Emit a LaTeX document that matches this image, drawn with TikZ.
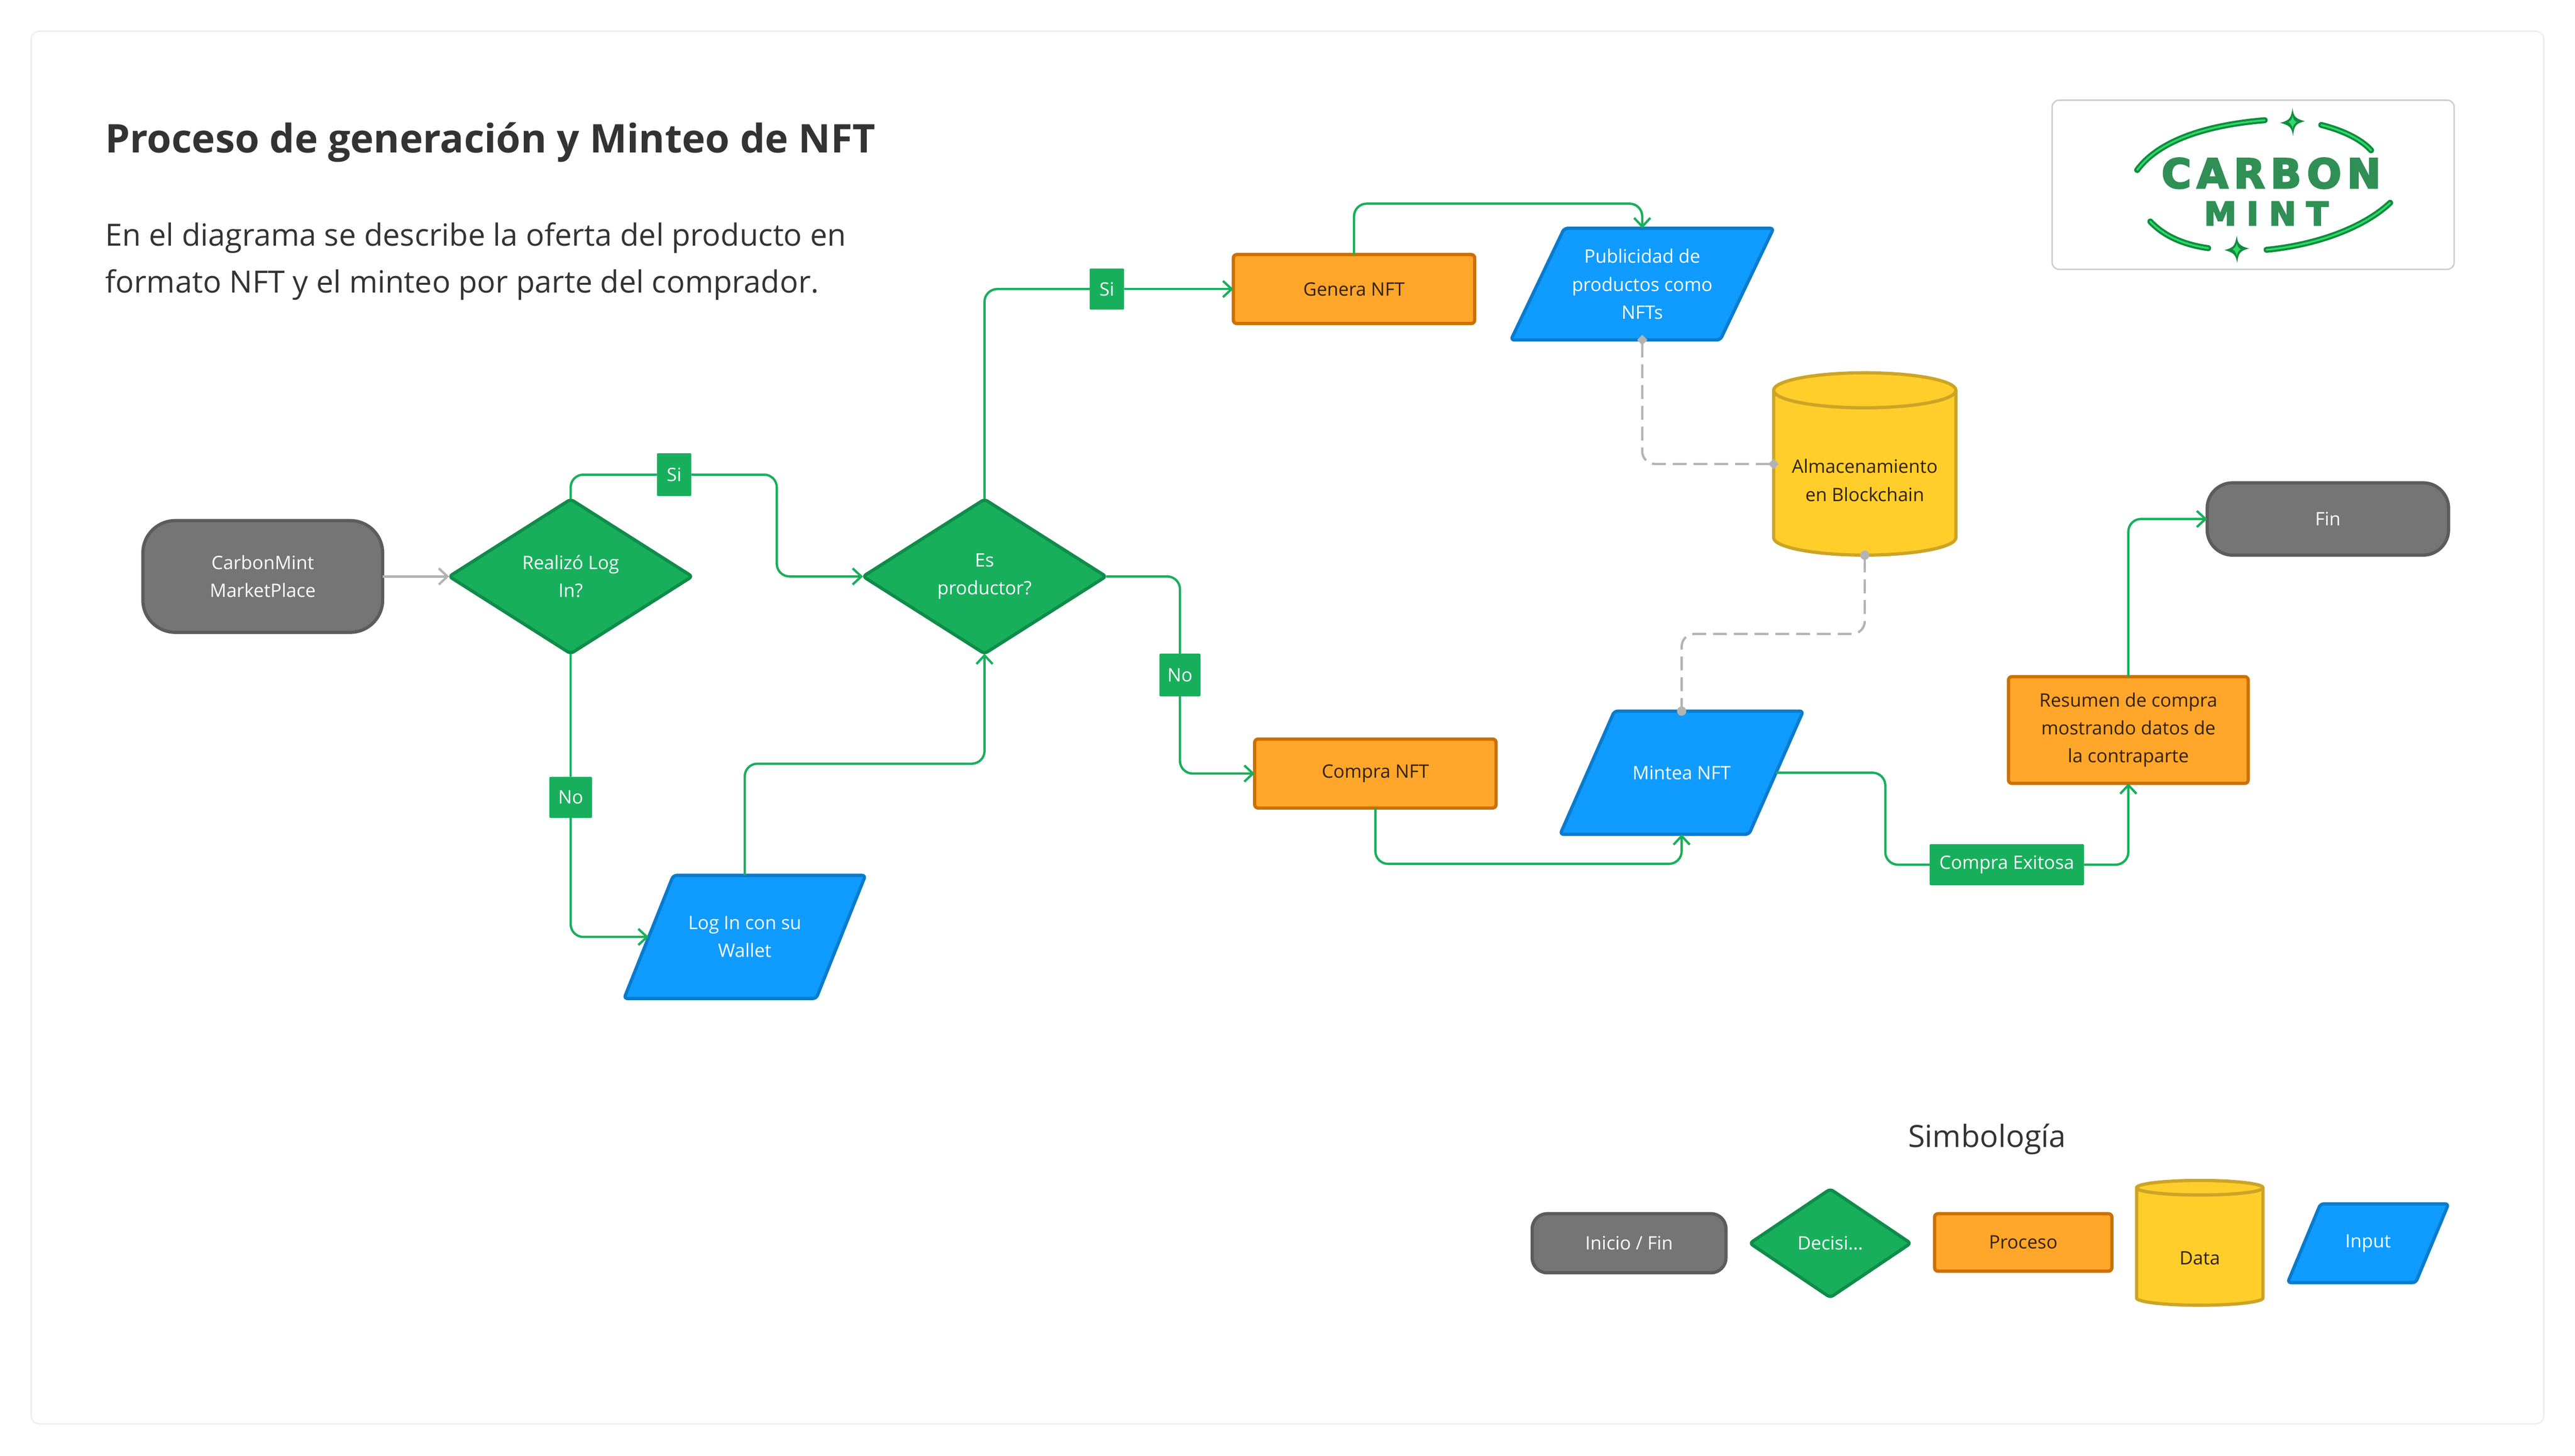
\documentclass[tikz,border=0pt]{standalone}
\usepackage{fontspec}
\setmainfont{Open Sans}
\newfontfamily\logofont[FakeBold=4]{DejaVu Sans Bold}
\usepackage{tikz}
\usetikzlibrary{arrows.meta,shapes.geometric}
\definecolor{cardline}{HTML}{EEEEEE}
\definecolor{logoline}{HTML}{CCCCCC}
\definecolor{inkdark}{HTML}{333333}
\definecolor{inkwarm}{HTML}{332200}
\definecolor{grayfill}{HTML}{757575}
\definecolor{grayline}{HTML}{5C5C5C}
\definecolor{greenfill}{HTML}{18AF5C}
\definecolor{greenline}{HTML}{0F8C49}
\definecolor{orangefill}{HTML}{FFA62B}
\definecolor{orangeline}{HTML}{CC7000}
\definecolor{yellowfill}{HTML}{FFCE2B}
\definecolor{yellowline}{HTML}{CCA426}
\definecolor{bluefill}{HTML}{0F9BFF}
\definecolor{blueline}{HTML}{0A7BCC}
\definecolor{linkgray}{HTML}{B3B3B3}
\definecolor{logodark}{HTML}{0E8C3C}
\definecolor{logolight}{HTML}{2FD86A}
\definecolor{logotext}{HTML}{2F8F55}
\tikzset{
	boxsize/.style 2 args={minimum width=(#1)*0.05cm,minimum height=(#2)*0.05cm},
	shapebase/.style={draw,line width=2.8pt,outer sep=0pt,inner sep=0pt,align=center,
		font=\fontsize{16}{24.2}\selectfont},
	terminal/.style={shapebase,rectangle,fill=grayfill,draw=grayline,text=white},
	decision/.style={shapebase,diamond,aspect=1.5,rounded corners=3pt,fill=greenfill,draw=greenline,text=white},
	process/.style={shapebase,rectangle,rounded corners=3pt,fill=orangefill,draw=orangeline,text=inkwarm},
	inputshape/.style={line width=2.8pt,rounded corners=3pt,fill=bluefill,draw=blueline},
	inputtext/.style={shapebase,rectangle,draw=none,text=white},
	datastore/.style={shapebase,cylinder,shape border rotate=90,aspect=#1,anchor=shape center,
		fill=yellowfill,draw=yellowline,text=inkwarm},
	tag/.style={fill=greenfill,text=white,rounded corners=1pt,inner sep=0pt,outer sep=0pt,
		font=\fontsize{16}{20}\selectfont},
	flow/.style={draw=greenfill,line width=2pt,rounded corners=11pt,
		-{Straight Barb[length=7.5pt,width=14pt,line width=2pt]}},
	plainflow/.style={draw=greenfill,line width=2pt,rounded corners=11pt},
	graylink/.style={draw=linkgray,line width=2pt,
		-{Straight Barb[length=7.5pt,width=14pt,line width=2pt]}},
	dashlink/.style={draw=linkgray,line width=2pt,rounded corners=11pt,dash pattern=on 12pt off 6pt},
	logoarc/.style={line width=#1,line cap=round},
}
% name, centre x, centre y, width, height, slant, text
\newcommand{\inputnode}[7]{%
	\draw[inputshape] ({#2-#4/2+#6},{#3-#5/2}) -- ({#2+#4/2},{#3-#5/2})
		-- ({#2+#4/2-#6},{#3+#5/2}) -- ({#2-#4/2},{#3+#5/2}) -- cycle;
	\node[inputtext,boxsize={#4-#6}{#5}] (#1) at (#2,#3) {#7};
}
\newcommand{\logostar}[1]{%
	\fill[logodark,shift={#1}] (0,-8.5) .. controls (0.6,-3) and (2,-2) .. (7.5,-0.5)
		.. controls (2,1) and (1,2) .. (0.3,8.5) .. controls (-0.6,3) and (-2,2) .. (-7.5,0.5)
		.. controls (-2,-1) and (-1,-2) .. cycle;
	\fill[logolight,shift={#1}] (0,-4) .. controls (0.4,-1.5) and (1,-1) .. (2.5,0)
		.. controls (1,1) and (0.4,2) .. (0,4) .. controls (-0.4,2) and (-1,1) .. (-2.5,0)
		.. controls (-1,-1) and (-0.4,-1.5) .. cycle;
}
\newcommand{\logoswoosh}[4]{%
	\draw[logoarc=5.2pt,logodark] #1 .. controls #2 and #3 .. #4;
	\draw[logoarc=1.6pt,logolight] #1 .. controls #2 and #3 .. #4;
}
\begin{document}
\begin{tikzpicture}[x=0.05cm,y=-0.05cm]
	\useasboundingbox (0,0) rectangle (1568,886.26);
	\draw[cardline,line width=1.2pt,fill=white,rounded corners=7pt] (19,19) rectangle (1549,867);
	% heading
	\node[anchor=base west,inner sep=0pt,text=inkdark,font=\fontsize{34.2}{40}\selectfont\bfseries] (heading) at (64,93) {Proceso de generaci\'on y Minteo de NFT};
	\node[anchor=north west,inner sep=0pt,text=inkdark,align=left,font=\fontsize{26.5}{40.5}\selectfont] (intro) at (64,135.5) {En el diagrama se describe la oferta del producto en\\formato NFT y el minteo por parte del comprador.};
	% logo
	\draw[logoline,line width=1.2pt,rounded corners=6pt,fill=white] (1249.6,61) rectangle (1494.4,164);
	\logoswoosh{(1379,73.2)}{(1345,76)}{(1315,85)}{(1301.4,103.5)}
	\logoswoosh{(1413.5,76.1)}{(1425,79)}{(1437,84)}{(1443.8,91.5)}
	\logoswoosh{(1455.4,123.5)}{(1440,138)}{(1412,149)}{(1380.2,152.1)}
	\logoswoosh{(1309.4,134.9)}{(1318,144)}{(1330,149)}{(1344.6,151.1)}
	\logostar{(1396,74.3)}
	\logostar{(1362,151.8)}
	\node[text=logotext,inner sep=0pt,font=\fontsize{35}{35}\logofont\addfontfeature{LetterSpace=14}] (carbonword) at (1383,105.5) {CARBON};
	\node[text=logotext,inner sep=0pt,font=\fontsize{28}{28}\logofont\addfontfeature{LetterSpace=32}] (mintword) at (1380,130) {MINT};
	% flow nodes
	\node[terminal,boxsize={146}{68},rounded corners=28pt] (market) at (160,351) {CarbonMint\\MarketPlace};
	\node[decision,boxsize={148}{94}] (realizo) at (347.5,351) {Realiz\'o Log\\In?};
	\node[decision,boxsize={148}{94}] (productor) at (599.5,351) {Es\\productor?};
	\inputnode{login}{453.5}{570.5}{147}{75}{30}{Log In con su\\Wallet}
	\node[process,boxsize={147}{42}] (genera) at (824.5,176) {Genera NFT};
	\inputnode{publicidad}{1000}{173}{160}{68}{32.5}{Publicidad de\\productos como\\NFTs}
	\node[datastore=0.24,boxsize={111}{111}] (almacen) at (1135.5,282.5) {\rule{0pt}{24pt}Almacenamiento\\en Blockchain};
	\node[process,boxsize={147}{42}] (compra) at (837.5,471) {Compra NFT};
	\inputnode{mintea}{1024}{470.5}{148}{75}{33}{Mintea NFT}
	\node[process,boxsize={146}{65}] (resumen) at (1296,444.5) {Resumen de compra\\mostrando datos de\\la contraparte};
	\node[terminal,boxsize={147}{44},rounded corners=22pt] (fin) at (1417.5,316) {Fin};
	% connector labels
	\node[tag,boxsize={21}{26}] (siuno) at (410.5,289) {Si};
	\node[tag,boxsize={26}{25}] (nouno) at (347.5,485.5) {No};
	\node[tag,boxsize={21}{25}] (sidos) at (674,176) {Si};
	\node[tag,boxsize={25}{26}] (nodos) at (718.5,411) {No};
	\node[tag,boxsize={94}{25}] (exitosa) at (1222,526.5) {Compra Exitosa};
	\coordinate (turnuno) at (473,320);
	\coordinate (turnlogin) at (525,465);
	\coordinate (turngenera) at (912,124);
	\coordinate (turnmintea) at (1148,500);
	\coordinate (turncompra) at (930,526);
	% connectors
	\draw[graylink] (market.east) -- (realizo.west);
	\draw[plainflow] (realizo.north) |- (siuno.west);
	\draw[flow] (siuno.east) -| (turnuno) |- (productor.west);
	\draw[plainflow] (realizo.south) -- (nouno.north);
	\draw[flow] (nouno.south) |- (login.west);
	\draw[flow] (login.north) |- (turnlogin) -| (productor.south);
	\draw[plainflow] (productor.north) |- (sidos.west);
	\draw[flow] (sidos.east) -- (genera.west);
	\draw[flow] (genera.north) |- (turngenera) -| (publicidad.north);
	\draw[plainflow] (productor.east) -| (nodos.north);
	\draw[flow] (nodos.south) |- (compra.west);
	\draw[flow] (compra.south) |- (turncompra) -| (mintea.south);
	\draw[plainflow] (mintea.east) -| (turnmintea) |- (exitosa.west);
	\draw[flow] (exitosa.east) -| (resumen.south);
	\draw[flow] (resumen.north) |- (fin.west);
	\draw[dashlink,{Diamond[length=9pt,width=9pt,fill=linkgray]}-{Diamond[length=9pt,width=9pt,fill=linkgray]},shorten <=-4.5pt,shorten >=-4.5pt] (publicidad.south) |- (almacen.shape center -| almacen.west);
	\coordinate (turnalmacen) at (1080,386);
	\draw[dashlink,{Circle[length=8pt,fill=linkgray]}-{Circle[length=8pt,fill=linkgray]},shorten <=-4pt,shorten >=-4pt] (almacen.south) |- (turnalmacen) -| (mintea.north);
	% legend
	\node[text=inkdark,inner sep=0pt,font=\fontsize{26.5}{30}\selectfont] (simbologia) at (1210,693.5) {Simbolog\'ia};
	\node[terminal,boxsize={118}{36},rounded corners=13pt] (keyfin) at (992,757) {Inicio / Fin};
	\node[decision,boxsize={98}{66}] (keydecision) at (1114.5,757) {Decisi...};
	\node[process,boxsize={108}{35}] (keyproceso) at (1232,756.5) {Proceso};
	\node[datastore=0.36,boxsize={77}{76}] (keydata) at (1339.5,756.75) {\rule{0pt}{30pt}Data};
	\inputnode{keyinput}{1442}{757}{98}{48}{20}{Input}
\end{tikzpicture}
\end{document}
